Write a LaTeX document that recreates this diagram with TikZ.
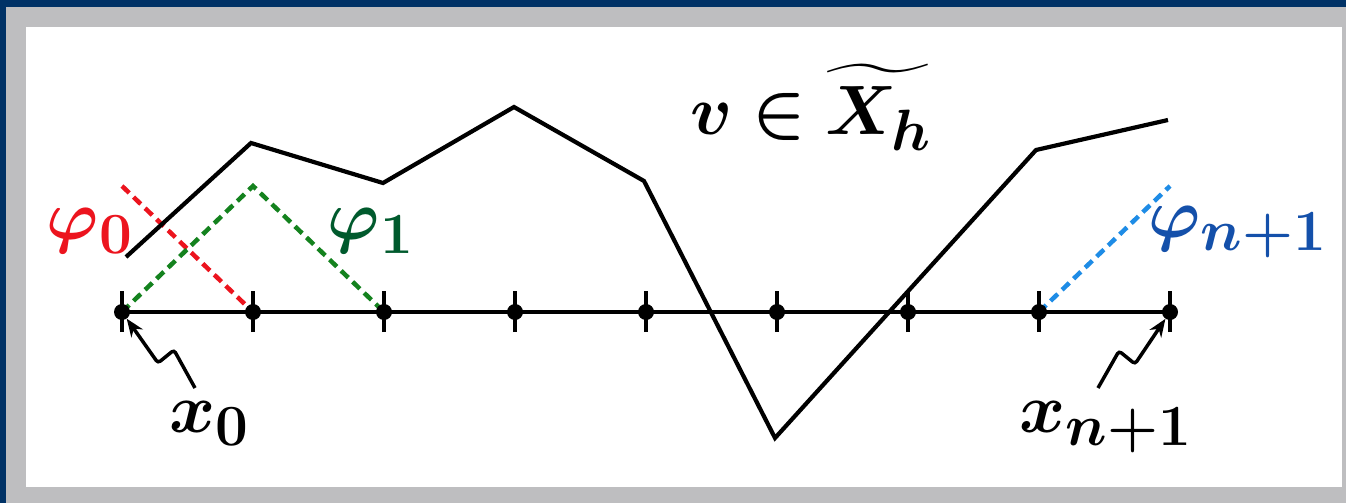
\documentclass[tikz,border=0pt]{standalone}
\usepackage{amsmath}
\usepackage{bm}
\usetikzlibrary{arrows.meta}
\definecolor{framebl}{RGB}{0,50,102}
\definecolor{framegr}{RGB}{190,190,192}
\definecolor{phired}{RGB}{236,20,30}
\definecolor{phigreen}{RGB}{20,130,30}
\definecolor{labgreen}{RGB}{0,90,45}
\definecolor{phiblue}{RGB}{30,140,230}
\definecolor{labblue}{RGB}{20,80,170}
\tikzset{
  bigtext/.style={inner sep=0pt, font=\Huge, scale=2.81},
  dotnode/.style={circle, fill=black, inner sep=0pt, minimum size=16pt},
  curve/.style={line width=4.2pt, line join=miter},
  hat/.style={line width=4.5pt, dash pattern=on 10pt off 6pt},
  tickmark/.style={line width=3.5pt},
  squiggle/.style={line width=3.5pt, rounded corners=3pt, -{Stealth[length=18pt,width=14pt]}}
}
\begin{document}
\begin{tikzpicture}[x=1pt,y=-1pt]
\useasboundingbox (0,0) rectangle (1346,503);
\fill[framebl] (0,0) rectangle (1346,503);
\fill[framegr] (6,7) rectangle (1346,503);
\fill[white] (26,27) rectangle (1342,487);
% grid points
\foreach \i/\x in {0/122,1/253,2/384,3/515,4/646,5/777,6/908,7/1039,8/1170}{
  \coordinate (c\i) at (\x,312);
}
% hat functions
\coordinate (h0) at (122,186);
\coordinate (h1) at (253,186);
\coordinate (h8) at (1170,186);
\draw[hat, phired] (h0) -- (c1);
\draw[hat, phigreen] (c0) -- (h1) -- (c2);
\draw[hat, phiblue] (c7) -- (h8);
% function v
\coordinate (v0) at (126,257);
\coordinate (v1) at (251,143);
\coordinate (v2) at (383,183);
\coordinate (v3) at (514,107);
\coordinate (v4) at (644,181);
\coordinate (v5) at (775,438);
\coordinate (v6) at (1036,150);
\coordinate (v7) at (1168,120);
\draw[curve] (v0) -- (v1) -- (v2) -- (v3) -- (v4) -- (v5) -- (v6) -- (v7);
% axis
\draw[curve] (c0) -- (c8);
\foreach \i in {0,...,8}{
  \draw[tickmark] ([yshift=-20pt]c\i) -- ([yshift=21pt]c\i);
  \node[dotnode] (p\i) at (c\i) {};
}
% labels
\node[bigtext, text=phired] (phi0) at (90,231) {$\bm{\varphi_0}$};
\node[bigtext, text=labgreen] (phi1) at (371,231) {$\bm{\varphi_1}$};
\node[bigtext, text=labblue] (phin) at (1238,232) {$\bm{\varphi_{n+1}}$};
\node[bigtext, anchor=base] (vlab) at (811,134) {$\bm{v} \mathrel{\bm{\in}} \widetilde{\bm{X}_{\bm{h}}}$};
\node[bigtext, anchor=base] (x0lab) at (210,432) {$\bm{x_0}$};
\node[bigtext, anchor=base] (xnlab) at (1106,432) {$\bm{x_{n+1}}$};
% squiggly arrows
\coordinate (s0) at (195,388);
\coordinate (s1) at (1098,388);
\draw[squiggle] (s0) -- (174,350) -- (158,363) -- (p0);
\draw[squiggle] (s1) -- (1119,351) -- (1135,364) -- (p8);
\end{tikzpicture}
\end{document}
